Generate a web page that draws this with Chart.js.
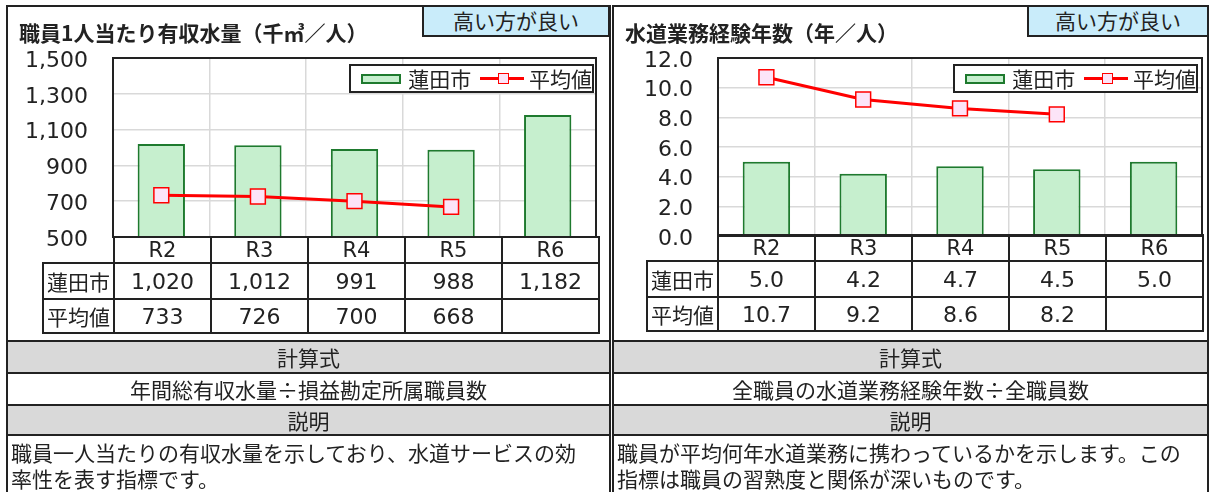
<!DOCTYPE html>
<html lang="ja">
<head>
<meta charset="utf-8">
<script src="https://cdn.jsdelivr.net/npm/chart.js@4.4.1/dist/chart.umd.min.js"></script>
<style>
  body { margin: 0; width: 1212px; height: 492px; overflow: hidden; background: #fff;
         font-family: "Noto Sans CJK JP", "Noto Sans", sans-serif; color: #222; position: relative; }
  .abs { position: absolute; box-sizing: border-box; }
  .panel { border: 2px solid #222; height: 500px; top: 5px; }
  .badge { background: #c9ecfa; border: 2px solid #222; top: 5px; height: 32px;
           font-size: 21px; line-height: 27px; text-align: center; }
  .title { font-size: 21px; font-weight: 700; line-height: 26px; top: 19px; white-space: nowrap; }
  .legend { background: #fff; border: 2px solid #222; top: 64px; height: 29px; display: flex;
            align-items: center; font-size: 21px; line-height: 25px; white-space: nowrap; }
  .lg-bar { display: inline-block; width: 42px; height: 10px; background: #c6efce;
            border: 2px solid #1e7a2e; box-sizing: border-box; margin: 0 7px 0 10px; }
  .lg-line { display: inline-block; position: relative; width: 46px; height: 3px; background: #ff0000;
             margin: 0 5px 0 9px; }
  .lg-line i { position: absolute; left: 18px; top: -4px; width: 11px; height: 11px; box-sizing: border-box;
               background: #fce4f8; border: 1.5px solid #ff0000; }
  table.data { border-collapse: collapse; table-layout: fixed; width: 556px; }
  table.data td { border: 2px solid #222; text-align: center; padding: 0;
                  font-family: "DejaVu Sans", sans-serif; font-size: 22px; }
  table.data td.lab { font-family: "Noto Sans CJK JP", sans-serif; font-size: 21px; }
  table.data tr.head td { font-size: 21px; height: 24px; line-height: 24px; }
  table.data tr.head td.blank { border: none; }
  .row { font-size: 21px; text-align: center; border-top: 2px solid #222; }
  .gray { background: #d9d9d9; }
  .desc { font-size: 21px; line-height: 26px; text-align: left; padding-left: 3px; white-space: nowrap; }
</style>
</head>
<body>
<script>
// categories
const years = ['R2', 'R3', 'R4', 'R5', 'R6'];
const seriesNames = ['蓮田市', '平均値'];

// 職員1人当たり有収水量（千㎥／人）
const hasudaWater = [1020, 1012, 991, 988, 1182];
const avgWater = [733, 726, 700, 668, null];
const waterTicks = [500, 700, 900, 1100, 1300, 1500];

// 水道業務経験年数（年／人）
const hasudaYears = [5.0, 4.2, 4.7, 4.5, 5.0];
const avgYears = [10.7, 9.2, 8.6, 8.2, null];
const yearTicks = [0, 2, 4, 6, 8, 10, 12];

const fmtWater = v => v == null ? '' : v.toLocaleString('en-US');
const fmtYears = v => v == null ? '' : v.toFixed(1);

// plot area frame
const framePlugin = {
    id: 'frame',
    afterDraw(chart) {
        const a = chart.chartArea;
        const c = chart.ctx;
        c.save();
        c.strokeStyle = '#222';
        c.lineWidth = 2;
        c.strokeRect(a.left, a.top, a.right - a.left, a.bottom - a.top);
        c.restore();
    }
};

function el(cls, style, html) {
    const d = document.createElement('div');
    d.className = 'abs ' + cls;
    Object.assign(d.style, style);
    if (html !== undefined) d.innerHTML = html;
    document.body.appendChild(d);
    return d;
}

function buildPanel(p) {
    el('panel', { left: p.x + 'px', width: p.w + 'px' });

    // canvas for the chart
    const canvas = document.createElement('canvas');
    canvas.width = 600;
    canvas.height = 222;
    canvas.className = 'abs';
    canvas.style.left = p.canvasX + 'px';
    canvas.style.top = '40px';
    document.body.appendChild(canvas);

    el('title', { left: p.titleX + 'px' }, p.title);
    el('badge', { left: p.badgeX + 'px', width: p.badgeW + 'px' }, '高い方が良い');

    new Chart(canvas.getContext('2d'), {
        type: 'bar',
        data: {
            labels: years,
            datasets: [
                {
                    type: 'line',
                    label: seriesNames[1],
                    data: p.avg,
                    order: 0,
                    borderColor: '#ff0000',
                    borderWidth: 3,
                    tension: 0,
                    pointStyle: 'rect',
                    pointRadius: 10.5,
                    pointBorderWidth: 1.5,
                    pointBorderColor: '#ff0000',
                    pointBackgroundColor: '#fce4f8'
                },
                {
                    label: seriesNames[0],
                    data: p.city,
                    order: 1,
                    backgroundColor: '#c6efce',
                    borderColor: '#1e7a2e',
                    borderWidth: 2,
                    barPercentage: 0.49,
                    categoryPercentage: 1.0
                }
            ]
        },
        options: {
            responsive: false,
            animation: false,
            layout: { padding: { left: 0, right: p.padRight, top: 18, bottom: p.padBottom } },
            plugins: { legend: { display: false }, tooltip: { enabled: false } },
            scales: {
                x: {
                    grid: { color: '#d9d9d9', lineWidth: 1.5, drawTicks: false, offset: true },
                    border: { display: false },
                    ticks: { display: false }
                },
                y: {
                    min: p.ticks[0],
                    max: p.ticks[p.ticks.length - 1],
                    grid: { color: '#d9d9d9', lineWidth: 1.5, drawTicks: true, tickLength: 25,
                            tickColor: 'rgba(0,0,0,0)' },
                    border: { display: false },
                    afterBuildTicks: s => { s.ticks = p.ticks.map(v => ({ value: v })); },
                    afterFit: s => { s.width = p.axisW; },
                    ticks: {
                        padding: 0,
                        labelOffset: 3,
                        color: '#222',
                        font: { family: '"DejaVu Sans", sans-serif', size: 22 },
                        callback: v => p.fmt(v)
                    }
                }
            }
        },
        plugins: [framePlugin]
    });

    // legend inside the plot area
    el('legend', { left: p.legendX + 'px', width: '245px' },
        '<span class="lg-bar"></span><span>' + seriesNames[0] + '</span>' +
        '<span class="lg-line"><i></i></span><span>' + seriesNames[1] + '</span>');

    // data table under the chart
    let html = '<table class="data"><colgroup><col style="width:71px">' +
        years.map(() => '<col style="width:97px">').join('') + '</colgroup>';
    html += '<tr class="head"><td class="blank"></td>' + years.map(y => '<td>' + y + '</td>').join('') + '</tr>';
    html += '<tr style="height:36px"><td class="lab">' + seriesNames[0] + '</td>' +
        p.city.map(v => '<td>' + p.fmt(v) + '</td>').join('') + '</tr>';
    html += '<tr style="height:34px"><td class="lab">' + seriesNames[1] + '</td>' +
        p.avg.map(v => '<td>' + p.fmt(v) + '</td>').join('') + '</tr></table>';
    el('', { left: p.tableX + 'px', top: p.tableY + 'px' }, html);

    // formula / description rows
    const ix = p.x + 2, iw = p.w - 4;
    el('row gray', { left: ix + 'px', width: iw + 'px', top: '340px', height: '33px', lineHeight: '30px' }, '計算式');
    el('row', { left: ix + 'px', width: iw + 'px', top: '372px', height: '33px', lineHeight: '30px' }, p.formula);
    el('row gray', { left: ix + 'px', width: iw + 'px', top: '404px', height: '31px', lineHeight: '28px' }, '説明');
    el('row desc', { left: ix + 'px', width: iw + 'px', top: '434px', height: '60px', paddingTop: '3px' }, p.desc);
}

window.addEventListener('DOMContentLoaded', () => {
    buildPanel({
        x: 6, w: 605,
        canvasX: 8, axisW: 105, padRight: 10, padBottom: 25,
        titleX: 19, title: '職員1人当たり有収水量（千㎥／人）',
        badgeX: 422, badgeW: 188,
        legendX: 349,
        tableX: 42, tableY: 236,
        city: hasudaWater, avg: avgWater, ticks: waterTicks, fmt: fmtWater,
        formula: '年間総有収水量÷損益勘定所属職員数',
        desc: '職員一人当たりの有収水量を示しており、水道サービスの効<br>率性を表す指標です。'
    });
    buildPanel({
        x: 612, w: 597,
        canvasX: 614, axisW: 104, padRight: 11, padBottom: 26,
        titleX: 625, title: '水道業務経験年数（年／人）',
        badgeX: 1027, badgeW: 182,
        legendX: 953,
        tableX: 646, tableY: 234,
        city: hasudaYears, avg: avgYears, ticks: yearTicks, fmt: fmtYears,
        formula: '全職員の水道業務経験年数÷全職員数',
        desc: '職員が平均何年水道業務に携わっているかを示します。この<br>指標は職員の習熟度と関係が深いものです。'
    });
});
</script>
</body>
</html>
